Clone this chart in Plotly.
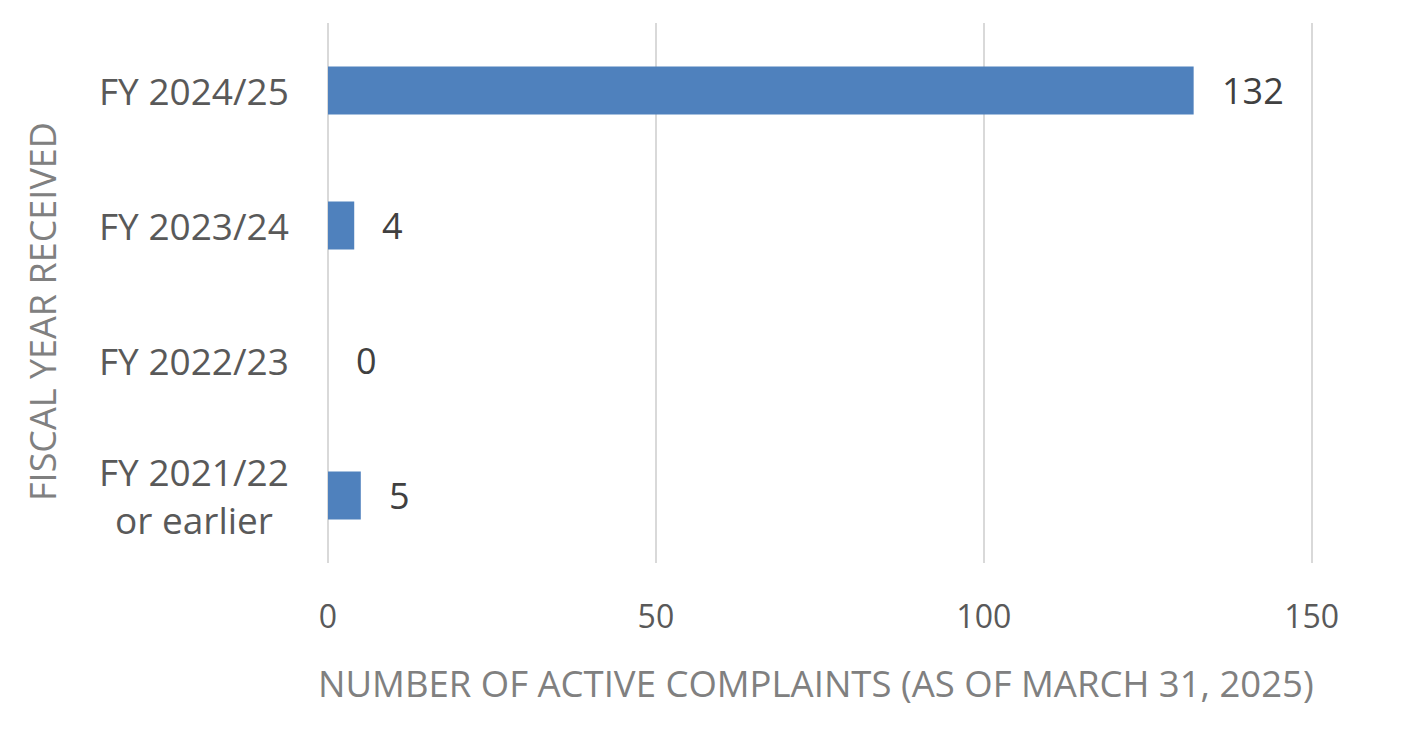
import plotly.graph_objects as go

categories = ["FY 2024/25", "FY 2023/24", "FY 2022/23", "FY 2021/22<br>or earlier"]
values = [132, 4, 0, 5]
x_ticks = [0, 50, 100, 150]
x_title = "NUMBER OF ACTIVE COMPLAINTS (AS OF MARCH 31, 2025)"
y_title = "FISCAL YEAR RECEIVED"

FONT = "Open Sans"
W, H = 1403, 743
OFF = 8  # page body margin
# plot area in page pixels
PX0, PX1, PY0, PY1 = 328, 1313, 23, 563
L, T = PX0 - OFF, PY0 - OFF
R = W - (PX1 - OFF)
B = H - (PY1 - OFF)
PW, PH = PX1 - PX0, PY1 - PY0


def px_x(p):
    return (p - PX0) / PW


def px_y(p):
    return (PY1 - p) / PH


fig = go.Figure()
fig.add_trace(go.Bar(
    x=values, y=categories, orientation="h",
    marker=dict(color="#4F81BD", line=dict(width=0)),
    hoverinfo="skip",
))

ann = []
for c, v in zip(categories, values):
    ann.append(dict(x=v, y=c, xref="x", yref="y", text=str(v), showarrow=False,
                    xanchor="left", yanchor="middle", xshift=26,
                    font=dict(family=FONT, size=36, color="#404040")))
    ann.append(dict(x=px_x(194), y=c, xref="paper", yref="y", text=c, showarrow=False,
                    xanchor="center", yanchor="middle", align="center",
                    font=dict(family=FONT, size=37, color="#595959")))

ann.append(dict(x=px_x(816), y=px_y(683), xref="paper", yref="paper",
                text=x_title, showarrow=False, xanchor="center", yanchor="middle",
                font=dict(family=FONT, size=36.5, color="#808080")))
ann.append(dict(x=px_x(42), y=px_y(312), xref="paper", yref="paper",
                text=y_title, showarrow=False, textangle=-90, xanchor="center", yanchor="middle",
                font=dict(family=FONT, size=36, color="#808080")))

fig.update_layout(
    width=W, height=H,
    margin=dict(l=L, r=R, t=T, b=B),
    plot_bgcolor="white", paper_bgcolor="white",
    bargap=0.645,
    showlegend=False,
    annotations=ann,
    font=dict(family=FONT),
)
fig.update_xaxes(
    range=[0, 150.2], tickvals=x_ticks, ticktext=[str(t) for t in x_ticks],
    showgrid=True, gridcolor="#D9D9D9", gridwidth=2,
    zeroline=True, zerolinecolor="#D9D9D9", zerolinewidth=2,
    showline=False, ticks="", ticklabelstandoff=32,
    tickfont=dict(family=FONT, size=32, color="#595959"),
)
fig.update_yaxes(
    autorange="reversed", showticklabels=False, showgrid=False,
    zeroline=False, showline=False, ticks="",
)

fig.write_html("out.html")
